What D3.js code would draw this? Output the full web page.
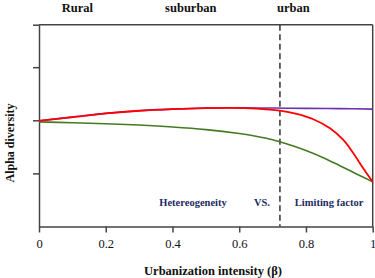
<!DOCTYPE html>
<html>
<head>
<meta charset="utf-8">
<script src="https://cdn.jsdelivr.net/npm/d3@7/dist/d3.min.js"></script>
<style>
  html, body { margin: 0; padding: 0; background: #fff; }
  svg { display: block; }
  text { font-family: "Liberation Serif", "Times New Roman", serif; }
</style>
</head>
<body>
<svg id="chart" width="375" height="278"></svg>
<script>
// ---- data ----
const xTicks = [0, 0.2, 0.4, 0.6, 0.8, 1];
const yTicks = [1, 2, 3, 3.8];
const zoneLabels = ["Rural", "suburban", "urban"];
const zoneX = [0.115, 0.455, 0.762];
const bottomLabels = ["Hetereogeneity", "VS.", "Limiting factor"];
const bottomX = [0.4615, 0.668, 0.972];
const dividerBeta = 0.722;

const purpleX = [0, 0.1, 0.2, 0.3, 0.4, 0.5, 0.6, 0.7, 0.8, 0.9, 1.0];
const purpleY = [1.99, 2.06, 2.13, 2.18, 2.21, 2.23, 2.235, 2.23, 2.225, 2.22, 2.21];

const redX = [0, 0.1, 0.2, 0.3, 0.4, 0.5, 0.572, 0.65, 0.722, 0.772, 0.822, 0.872, 0.912, 0.942, 0.972, 1.0];
const redY = [1.99, 2.06, 2.13, 2.18, 2.21, 2.23, 2.235, 2.22, 2.18, 2.12, 2.02, 1.85, 1.63, 1.38, 1.09, 0.84];

const greenX = [0, 0.1, 0.2, 0.3, 0.4, 0.5, 0.6, 0.65, 0.7, 0.722, 0.76, 0.8, 0.85, 0.9, 0.95, 1.0];
const greenY = [1.97, 1.955, 1.935, 1.91, 1.875, 1.825, 1.75, 1.70, 1.635, 1.595, 1.52, 1.43, 1.30, 1.15, 0.995, 0.84];

// ---- chart ----
const svg = d3.select("#chart");
const x = d3.scaleLinear().domain([0, 1]).range([39, 372.7]);
const y = d3.scaleLinear().domain([0, 3.8]).range([226.5, 24.7]);
const axisColor = "#444";

// box top & right
svg.append("line").attr("x1", x(0)).attr("x2", x(1)).attr("y1", y(3.8)).attr("y2", y(3.8))
  .attr("stroke", axisColor).attr("stroke-width", 1.5);
svg.append("line").attr("x1", x(1)).attr("x2", x(1)).attr("y1", y(3.8)).attr("y2", y(0))
  .attr("stroke", axisColor).attr("stroke-width", 1.5);

const gx = svg.append("g").attr("transform", `translate(0,${y(0)})`)
  .call(d3.axisBottom(x).tickValues(xTicks).tickSize(6).tickSizeOuter(0).tickPadding(7)
    .tickFormat(d => (d === 0 || d === 1) ? String(d) : d.toFixed(1)));
const gy = svg.append("g").attr("transform", `translate(${x(0)},0)`)
  .call(d3.axisLeft(y).tickValues(yTicks).tickSize(6).tickSizeOuter(0).tickFormat(""));
[gx, gy].forEach(g => {
  g.selectAll("path, line").attr("stroke", axisColor).attr("stroke-width", 1.5);
  g.selectAll("text").attr("fill", "#111").attr("font-size", "12.5px")
    .attr("font-family", "'Liberation Serif', 'Times New Roman', serif");
});

// dashed divider
svg.append("line").attr("x1", x(dividerBeta)).attr("x2", x(dividerBeta))
  .attr("y1", y(3.8)).attr("y2", y(0))
  .attr("stroke", "#333").attr("stroke-width", 1.5).attr("stroke-dasharray", "6,3.5");

const line = d3.line().x(d => x(d[0])).y(d => y(d[1])).curve(d3.curveCatmullRom.alpha(0.5));
function drawSeries(xs, ys, color, w) {
  svg.append("path").datum(xs.map((v, i) => [v, ys[i]]))
    .attr("d", line).attr("fill", "none").attr("stroke", color).attr("stroke-width", w);
}
drawSeries(greenX, greenY, "#467a22", 1.6);
drawSeries(purpleX, purpleY, "#6f2fb0", 1.6);
drawSeries(redX, redY, "#ff0000", 1.8);

// zone labels
svg.selectAll(".zone").data(zoneLabels).enter().append("text")
  .attr("x", (d, i) => x(zoneX[i])).attr("y", 12)
  .attr("text-anchor", "middle").attr("font-weight", "bold").attr("font-size", "12.5px")
  .attr("fill", "#111").text(d => d);

// bottom labels
svg.selectAll(".blab").data(bottomLabels).enter().append("text")
  .attr("x", (d, i) => x(bottomX[i])).attr("y", 205.5)
  .attr("text-anchor", (d, i) => i === 2 ? "end" : "middle")
  .attr("font-weight", "bold").attr("font-size", "10.5px")
  .attr("fill", "#1e2b63").text(d => d);

// axis titles
svg.append("text").attr("x", 213).attr("y", 274.5).attr("text-anchor", "middle")
  .attr("font-weight", "bold").attr("font-size", "12.5px").attr("fill", "#111")
  .text("Urbanization intensity (β)");
svg.append("text").attr("transform", "translate(14,143) rotate(-90)")
  .attr("text-anchor", "middle").attr("font-weight", "bold").attr("font-size", "12px")
  .attr("fill", "#111").text("Alpha diversity");
</script>
</body>
</html>
